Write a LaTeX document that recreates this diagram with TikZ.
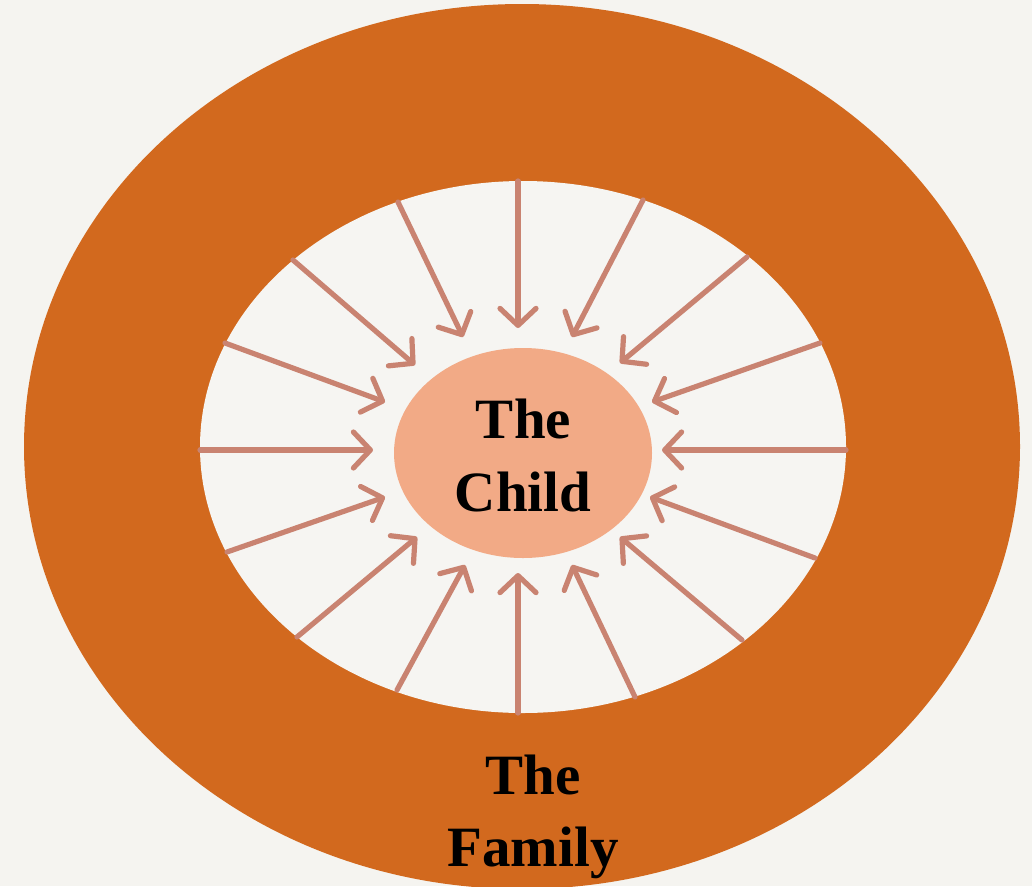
\documentclass[tikz,border=0pt]{standalone}
\usepackage{fontspec}
\setmainfont{Liberation Serif}
\usetikzlibrary{shapes.geometric,arrows.meta}
\definecolor{bgc}{HTML}{F5F4F0}
\definecolor{ringc}{HTML}{D2691E}
\definecolor{innerc}{HTML}{F6F5F2}
\definecolor{childc}{HTML}{F2AA86}
\definecolor{arrc}{HTML}{C98371}
\tikzset{
  blob/.style={ellipse, inner sep=0pt, draw=none},
  ray/.style={draw=arrc, line width=5.2pt, line cap=round,
    -{Straight Barb[length=17pt,width=36pt,line cap=round,line join=round]}},
  lbl/.style={anchor=base, inner sep=0pt, font=\fontsize{57}{72}\selectfont\bfseries}
}
\begin{document}
\begin{tikzpicture}[x=1pt,y=-1pt]
\fill[bgc] (0,0) rectangle (1032,886);
\useasboundingbox (0,0) rectangle (1032,886);
\clip (0,0) rectangle (1032,886);
\node[blob, fill=ringc, minimum width=996pt, minimum height=885pt] (family) at (522,446.5) {};
\node[blob, fill=innerc, minimum width=646pt, minimum height=532pt] (inner) at (523,447) {};
\foreach \sx/\sy/\tx/\ty [count=\i] in {
  518/181/518/328,
  398/202/463/337, 643/200/572/337,
  293/260/415/365, 747/257/620/363,
  225/343/385/402, 820/343/652/402,
  200/450/373/450, 846/450/662/450,
  227/552/385/497, 815/558/650/497,
  297/637/417/537, 742/640/620/537,
  397/690/465/565, 635/697/572/565,
  518/713/518/573}{
  \coordinate (s\i) at (\sx,\sy);
  \coordinate (t\i) at (\tx,\ty);
  \draw[ray] (s\i) -- (t\i);
}
\node[blob, fill=childc, minimum width=258pt, minimum height=210pt] (child) at (523,453) {};
\node[lbl] (childA) at (523.5,438) {The};
\node[lbl] (childB) at (523,511) {Child};
\node[lbl] (famA) at (533,794) {The};
\node[lbl] (famB) at (533,866) {Family};
\end{tikzpicture}
\end{document}
